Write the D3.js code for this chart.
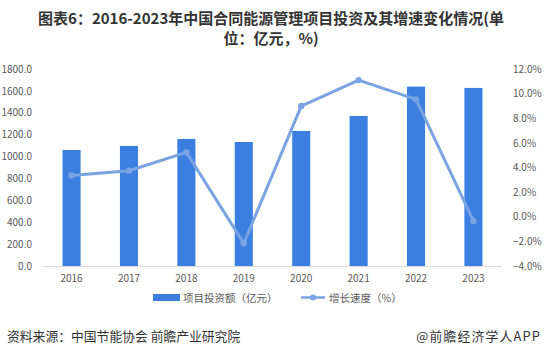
<!DOCTYPE html>
<html><head><meta charset="utf-8">
<script src="https://cdn.jsdelivr.net/npm/d3@7"></script>
<style>body{margin:0;background:#fff;}svg{display:block;}</style>
</head><body>
<svg id="c" width="544" height="357"></svg>
<script>
const years = ["2016","2017","2018","2019","2020","2021","2022","2023"];
const investment = [1060, 1097, 1161, 1133, 1234, 1371, 1639, 1627];
const growth = [3.35, 3.74, 5.23, -2.16, 8.99, 11.1, 9.53, -0.34];
const leftTicks = [0,200,400,600,800,1000,1200,1400,1600,1800];
const rightTicks = [-4,-2,0,2,4,6,8,10,12];
const titleLines = ["图表6：2016-2023年中国合同能源管理项目投资及其增速变化情况(单","位：亿元，%)"];
const legendLabels = ["项目投资额（亿元）","增长速度（%）"];
const sourceText = "资料来源：中国节能协会 前瞻产业研究院";
const creditText = "@前瞻经济学人APP";

const svg = d3.select("#c");
const font = "'Microsoft YaHei','Noto Sans CJK SC',sans-serif";
const barColor = "#3b80e0", lineColor = "#79a3e2", tickColor = "#595959";

const m = {l:43, r:502, t:69, b:266};
const x = d3.scaleBand().domain(years).range([m.l, m.r]).paddingInner(0.685).paddingOuter(0.34);
const yL = d3.scaleLinear().domain([0,1800]).range([m.b, m.t]);
const yR = d3.scaleLinear().domain([-4,12]).range([m.b, m.t]);

// title
svg.append("g").selectAll("text").data(titleLines).join("text")
  .attr("x", 271).attr("y", (d,i)=>24 + i*20)
  .attr("text-anchor","middle").attr("font-family",font)
  .attr("font-size",15).attr("font-weight","bold").attr("fill","#333")
  .text(d=>d);

// left axis
const gL = svg.append("g").attr("transform",`translate(${m.l-8},0)`)
  .call(d3.axisLeft(yL).tickValues(leftTicks).tickFormat(d3.format(".1f")).tickSize(0));
gL.select(".domain").remove();
gL.selectAll("text").attr("font-family",font).attr("font-size",10).attr("fill",tickColor);

// right axis
const gR = svg.append("g").attr("transform",`translate(${m.r+8},0)`)
  .call(d3.axisRight(yR).tickValues(rightTicks).tickFormat(d=>d3.format(".1f")(d)+"%").tickSize(0));
gR.select(".domain").remove();
gR.selectAll("text").attr("font-family",font).attr("font-size",10).attr("fill",tickColor);

// bars
svg.append("g").selectAll("rect").data(investment).join("rect")
  .attr("x",(d,i)=>x(years[i])).attr("width",x.bandwidth())
  .attr("y",d=>yL(d)).attr("height",d=>yL(0)-yL(d))
  .attr("fill",barColor);

// x axis
const gX = svg.append("g").attr("transform",`translate(0,${m.b})`)
  .call(d3.axisBottom(x).tickSize(0).tickPadding(9));
gX.select(".domain").attr("stroke","#d9d9d9").attr("d",`M${m.l},0.5H${m.r}`);
gX.selectAll("text").attr("font-family",font).attr("font-size",10).attr("fill",tickColor);

// line
const cx = i => x(years[i]) + x.bandwidth()/2;
svg.append("path").datum(growth)
  .attr("d", d3.line().x((d,i)=>cx(i)).y(d=>yR(d)))
  .attr("fill","none").attr("stroke",lineColor).attr("stroke-width",3).attr("stroke-linejoin","round");
svg.append("g").selectAll("circle").data(growth).join("circle")
  .attr("cx",(d,i)=>cx(i)).attr("cy",d=>yR(d)).attr("r",3.2).attr("fill",lineColor);

// legend
const lg = svg.append("g").attr("font-family",font).attr("font-size",10.5).attr("fill",tickColor);
lg.append("rect").attr("x",153).attr("y",294).attr("width",27).attr("height",7).attr("fill",barColor);
lg.append("text").attr("x",183).attr("y",301.5).text(legendLabels[0]);
lg.append("line").attr("x1",301).attr("x2",325).attr("y1",297.5).attr("y2",297.5).attr("stroke",lineColor).attr("stroke-width",2.5);
lg.append("circle").attr("cx",313).attr("cy",297.5).attr("r",3).attr("fill",lineColor);
lg.append("text").attr("x",329).attr("y",301.5).text(legendLabels[1]);

// footer
svg.append("text").attr("x",7).attr("y",341).attr("font-family",font).attr("font-size",12.8).attr("fill","#333").text(sourceText);
svg.append("text").attr("x",541).attr("y",341).attr("text-anchor","end").attr("font-family",font).attr("font-size",12.8).attr("letter-spacing",1.2).attr("fill","#333").text(creditText);
</script>
</body></html>
